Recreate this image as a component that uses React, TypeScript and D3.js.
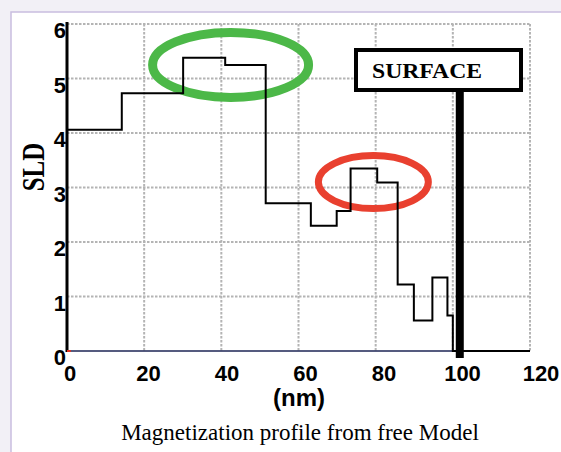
import React from 'react';
import * as d3 from 'd3';

// layer boundaries (nm) and SLD of each layer
const edges = [0, 14.2, 30.1, 41, 51.5, 63.2, 69.9, 73.5, 80.4, 85.7, 89.9, 94.7, 98.6, 100, 120];
const sld = [4.06, 4.73, 5.38, 5.25, 2.71, 2.3, 2.57, 3.35, 3.09, 1.22, 0.56, 1.35, 0.65, 0, 0];
const xTicks = [0, 20, 40, 60, 80, 100, 120];
const yTicks = [0, 1, 2, 3, 4, 5, 6];
const surfaceAt = 101.8;
// highlighted regions: [nm, SLD]
const greenMark = [42.4, 5.25];
const redMark = [79.4, 3.1];

const W = 561;
const H = 452;

const App = () => {
  const x = d3.scaleLinear().domain([0, 120]).range([67, 530]);
  const y = d3.scaleLinear().domain([0, 6]).range([351, 24]);
  // tick labels sit a little to the right of the grid in the original
  const xl = d3.scaleLinear().domain([0, 120]).range([70, 541]);

  const pts = edges.map((e, i) => [e, sld[i]] as [number, number]);
  const line = d3
    .line<[number, number]>()
    .x(d => x(d[0]))
    .y(d => y(d[1]))
    .curve(d3.curveStepAfter);

  const grid = { stroke: '#b4b4b4', strokeWidth: 2, strokeDasharray: '2.5,1.5' };
  const tickFont = { fontFamily: 'Liberation Sans, Arial, sans-serif', fontWeight: 'bold', fontSize: 22 };

  return (
    <svg width={W} height={H} style={{ position: 'absolute', left: 0, top: 0 }}>
      <rect width={W} height={H} fill="#f2f0f6" />
      <rect x={11} y={12} width={W} height={H} fill="#fff" stroke="#c9bde0" strokeWidth={1.5} />

      {xTicks.slice(1).map(t => (
        <line key={'gx' + t} x1={x(t)} x2={x(t)} y1={y(6)} y2={y(0)} {...grid} />
      ))}
      {yTicks.slice(1).map(t => (
        <line key={'gy' + t} x1={x(0)} x2={x(120)} y1={y(t)} y2={y(t)} {...grid} />
      ))}

      <ellipse cx={x(greenMark[0])} cy={y(greenMark[1])} rx={78} ry={32.5} fill="none" stroke="#4cb848" strokeWidth={9} />
      <ellipse cx={x(redMark[0])} cy={y(redMark[1])} rx={55} ry={26.5} fill="none" stroke="#e9402f" strokeWidth={7} />

      <line x1={x(0)} x2={x(120)} y1={y(0)} y2={y(0)} stroke="#1c2454" strokeWidth={1.5} />
      <path d={line(pts) || ''} fill="none" stroke="#000" strokeWidth={2} />
      <line x1={x(0)} x2={x(0)} y1={y(6) - 2} y2={y(0) + 1} stroke="#000" strokeWidth={3} />
      <line x1={x(0)} x2={x(1)} y1={y(0)} y2={y(0)} stroke="#e03020" strokeWidth={2} />

      {/* surface marker */}
      <line x1={x(surfaceAt)} x2={x(surfaceAt)} y1={90} y2={358} stroke="#000" strokeWidth={8} />
      <rect x={356} y={50} width={165} height={40} fill="#fff" stroke="#000" strokeWidth={4} />
      <text x={427} y={78} textAnchor="middle" textLength={110} lengthAdjust="spacingAndGlyphs"
        style={{ fontFamily: 'Liberation Serif, Times New Roman, serif', fontWeight: 'bold', fontSize: 20 }}>
        SURFACE
      </text>

      {xTicks.map(t => (
        <text key={'xl' + t} x={xl(t)} y={381} textAnchor="middle" style={tickFont}>{t}</text>
      ))}
      {yTicks.map(t => (
        <text key={'yl' + t} x={66} y={y(t) + 14} textAnchor="end" style={tickFont}>{t}</text>
      ))}

      <text x={299} y={406} textAnchor="middle" style={{ ...tickFont, fontSize: 24 }}>(nm)</text>
      <text transform="translate(32.5,167) rotate(-90) scale(1,1.27)" textAnchor="middle" dy="0.35em"
        style={{ fontFamily: 'Liberation Serif, Times New Roman, serif', fontWeight: 'bold', fontSize: 25 }}>
        SLD
      </text>
      <text x={300} y={440} textAnchor="middle"
        style={{ fontFamily: 'Liberation Serif, Times New Roman, serif', fontSize: 23 }}>
        Magnetization profile from free Model
      </text>
    </svg>
  );
};

export default App;
